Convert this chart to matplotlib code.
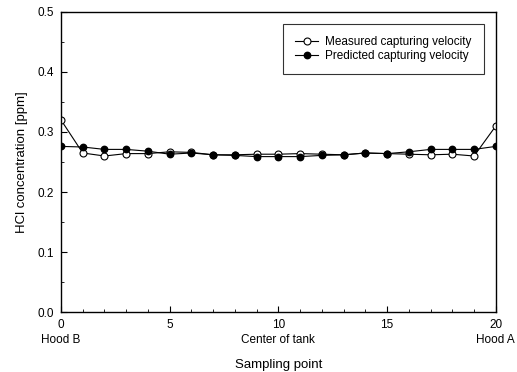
import matplotlib
matplotlib.use("Agg")
import matplotlib.pyplot as plt
from matplotlib.ticker import MultipleLocator

plt.rcParams["font.family"] = ["Liberation Sans", "DejaVu Sans"]

points = list(range(21))
measured = [0.320, 0.265, 0.260, 0.264, 0.264, 0.267, 0.266, 0.262, 0.262, 0.263,
            0.263, 0.264, 0.263, 0.262, 0.265, 0.264, 0.263, 0.262, 0.263, 0.260, 0.310]
predicted = [0.276, 0.275, 0.271, 0.271, 0.268, 0.263, 0.265, 0.262, 0.261, 0.259,
             0.259, 0.259, 0.261, 0.262, 0.265, 0.264, 0.267, 0.271, 0.271, 0.271, 0.276]
xtick_pos = [0, 5, 10, 15, 20]
xtick_labels = ["0\nHood B", "5", "10\nCenter of tank", "15", "20\nHood A"]

fig = plt.figure(figsize=(5.17, 3.72), dpi=100)
ax = fig.add_axes([0.118, 0.161, 0.841, 0.807])

ax.plot(points, measured, color="black", lw=0.8, marker="o", ms=5,
        mfc="white", mec="black", mew=0.8, label="Measured capturing velocity")
ax.plot(points, predicted, color="black", lw=0.8, marker="o", ms=4.6,
        mfc="black", mec="black", label="Predicted capturing velocity")

ax.set_xlim(0, 20)
ax.set_ylim(0, 0.5)
ax.set_xticks(xtick_pos)
ax.set_xticklabels(xtick_labels, fontsize=8.5, linespacing=1.35)
ax.xaxis.set_minor_locator(MultipleLocator(1))
ax.yaxis.set_major_locator(MultipleLocator(0.1))
ax.yaxis.set_minor_locator(MultipleLocator(0.05))
ax.yaxis.set_major_formatter(plt.FormatStrFormatter("%.1f"))
ax.tick_params(axis="y", labelsize=8.5)
ax.tick_params(which="both", direction="in", top=False, right=False)
ax.tick_params(which="major", length=4, pad=5)
ax.tick_params(which="minor", length=2.5)
for s in ax.spines.values():
    s.set_linewidth(1.0)

ax.set_xlabel("Sampling point", fontsize=9.5, labelpad=9)
ax.set_ylabel("HCl concentration [ppm]", fontsize=9.5, labelpad=7)

leg = ax.legend(loc="upper right", bbox_to_anchor=(0.972, 0.96), fontsize=8.5,
                frameon=True, fancybox=False, edgecolor="black", borderpad=1.0,
                handlelength=2.0, handletextpad=0.6, labelspacing=0.2,
                borderaxespad=0.0)
leg.get_frame().set_linewidth(0.8)

fig.savefig("out.png", dpi=100)
